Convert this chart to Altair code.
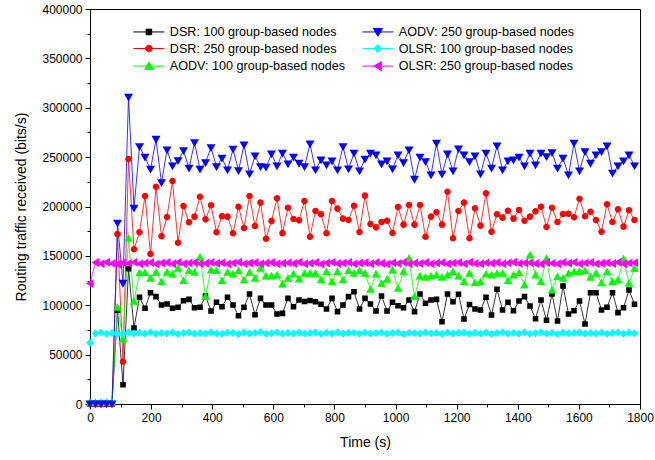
import altair as alt
import pandas as pd

# ---------------- data ----------------
TIME_S = [
    0, 18, 36, 54, 72, 90, 108, 126, 144, 162,
    180, 198, 216, 234, 252, 270, 288, 306, 324, 342,
    360, 378, 396, 414, 432, 450, 468, 486, 504, 522,
    540, 558, 576, 594, 612, 630, 648, 666, 684, 702,
    720, 738, 756, 774, 792, 810, 828, 846, 864, 882,
    900, 918, 936, 954, 972, 990, 1008, 1026, 1044, 1062,
    1080, 1098, 1116, 1134, 1152, 1170, 1188, 1206, 1224, 1242,
    1260, 1278, 1296, 1314, 1332, 1350, 1368, 1386, 1404, 1422,
    1440, 1458, 1476, 1494, 1512, 1530, 1548, 1566, 1584, 1602,
    1620, 1638, 1656, 1674, 1692, 1710, 1728, 1746, 1764, 1782,
]

DSR_100 = [
    0, 0, 0, 0, 0, 95000, 19500, 137000, 77000, 108100,
    96900, 112700, 108700, 100300, 101300, 96900, 97900, 104600, 106000, 97500,
    97900, 109400, 94200, 103000, 98500, 108100, 100300, 89400, 97900, 111400,
    90400, 107000, 100300, 100300, 91100, 91800, 107000, 98500, 105300, 103800,
    104800, 103600, 101000, 96200, 107000, 93500, 100300, 108700, 113700, 96200,
    107000, 101300, 94200, 109400, 94200, 103000, 99500, 97500, 105300, 93500,
    111400, 102000, 105300, 106000, 83300, 111400, 103600, 111100, 86100, 100800,
    96200, 95200, 108100, 90100, 116200, 95200, 103000, 94500, 104300, 108700,
    99200, 86400, 105300, 84800, 111400, 84100, 119500, 91100, 94500, 104300,
    81000, 112700, 112700, 95200, 97900, 112700, 92500, 97500, 115400, 101000,
]

DSR_250 = [
    0, 0, 0, 0, 0, 172000, 42800, 248000, 156700, 173900,
    210600, 151900, 220000, 169800, 189400, 225800, 163300, 200500, 184000, 189700,
    209900, 187000, 201200, 173900, 190100, 189700, 172900, 199800, 178200, 210600,
    180300, 203900, 167400, 185300, 208300, 173000, 198800, 187300, 186000, 205600,
    169400, 195400, 192100, 172900, 205600, 197800, 187700, 186300, 200800, 174200,
    211000, 182300, 178900, 184300, 185600, 173200, 199500, 181600, 201500, 181600,
    201500, 169400, 189700, 194100, 181600, 215000, 167800, 195400, 203900, 167800,
    198200, 180600, 213400, 174500, 192100, 188700, 195700, 187700, 196500, 185600,
    189700, 195100, 199800, 179200, 198800, 184300, 192400, 192700, 189100, 207900,
    190100, 194700, 186300, 174500, 202200, 184300, 197200, 179600, 196200, 186300,
]

AODV_100 = [
    1500, 1500, 1500, 1500, 1500, 97900, 66000, 168000, 104000, 132700,
    133000, 127300, 133400, 123900, 133400, 131600, 137400, 124900, 135000, 133400,
    148600, 108700, 135700, 135000, 124900, 133400, 131600, 135000, 125600, 133400,
    127300, 137400, 129600, 129600, 130600, 121500, 127300, 131600, 126600, 132300,
    132300, 132300, 125600, 134000, 123900, 134000, 125600, 135000, 132300, 135000,
    132300, 116100, 131600, 122200, 126300, 135700, 117100, 134000, 147500, 108700,
    129600, 128300, 129600, 130600, 128300, 130600, 134000, 129600, 123900, 132300,
    122800, 123900, 131600, 130600, 132300, 132300, 124900, 130600, 133000, 120500,
    150900, 130600, 123900, 147500, 115400, 128900, 127300, 132300, 134000, 134000,
    135000, 128300, 132300, 122800, 134000, 123900, 125600, 147000, 122200, 137400,
]

AODV_250 = [
    0, 0, 0, 0, 0, 183000, 122200, 310600, 198200, 260600,
    249800, 237700, 268000, 224100, 257200, 241000, 246400, 256500, 238700, 264600,
    237700, 244400, 259600, 240300, 248800, 237000, 257900, 236300, 262300, 232900,
    251100, 240300, 239700, 253200, 241000, 253900, 243000, 249800, 243700, 240300,
    263300, 237000, 247100, 242000, 246100, 237000, 260600, 238000, 253900, 236000,
    247800, 253900, 252200, 243000, 246100, 238000, 252200, 244400, 257200, 227500,
    249800, 245400, 231900, 264000, 232600, 253200, 236000, 258200, 252200, 245400,
    251100, 232900, 253900, 238700, 261300, 237000, 246100, 247100, 249800, 241000,
    253900, 242000, 253900, 250400, 254500, 238700, 248800, 231900, 264000, 236000,
    255500, 243700, 252200, 255500, 261300, 233600, 241000, 246100, 252200, 241000,
]

OLSR_100 = [
    62000, 71500, 72300, 71200, 72000, 71000, 70800, 72500, 71400, 72200,
    71300, 72400, 71100, 72000, 71600, 72300, 71000, 71900, 72500, 71200,
    72000, 71300, 72400, 71500, 71100, 72200, 71800, 71000, 72400, 71500,
    71900, 72600, 71200, 71700, 72300, 71100, 72000, 71400, 72500, 71300,
    71800, 72400, 71000, 72100, 71500, 72600, 71300, 71900, 72200, 71100,
    72300, 71400, 71800, 72500, 71200, 71900, 72300, 71000, 72200, 71700,
    71300, 72400, 71600, 72000, 71100, 72500, 71400, 71800, 72300, 71200,
    72100, 71500, 72400, 71000, 71900, 72300, 71300, 72000, 71500, 72400,
    71200, 71800, 72500, 71400, 72100, 71000, 72300, 71600, 71900, 72400,
    71300, 72000, 71500, 72300, 71100, 71800, 72400, 71200, 72100, 71600,
]

OLSR_250 = [
    122000, 143200, 142000, 143500, 142300, 141800, 143000, 142200, 143600, 141900,
    142800, 143400, 141700, 142900, 143300, 142100, 143500, 142000, 142700, 143200,
    141900, 142600, 143400, 142200, 143000, 141800, 142900, 143500, 142100, 142700,
    143300, 142000, 142800, 143400, 141900, 142500, 143100, 142300, 143600, 142000,
    142600, 143200, 141800, 142900, 143500, 142200, 142700, 143300, 141900, 142800,
    143100, 142100, 143400, 142500, 141800, 143000, 142400, 143600, 142000, 142900,
    142300, 143300, 141900, 142700, 143400, 142100, 142800, 143200, 142000, 143500,
    142400, 141900, 143100, 142600, 143300, 142000, 142900, 143500, 142200, 142700,
    143000, 142300, 141800, 143400, 142600, 142100, 143200, 142500, 143600, 141900,
    142800, 143300, 142000, 142600, 143100, 142400, 143500, 141900, 142700, 143000,
]

SERIES_NAMES = [
    "DSR: 100 group-based nodes",
    "DSR: 250 group-based nodes",
    "AODV: 100 group-based nodes",
    "AODV: 250 group-based nodes",
    "OLSR: 100 group-based nodes",
    "OLSR: 250 group-based nodes",
]
SERIES_VALUES = [DSR_100, DSR_250, AODV_100, AODV_250, OLSR_100, OLSR_250]
SERIES_COLORS = ["#000000", "#FF0000", "#00FF00", "#0000FF", "#00FFFF", "#FF00FF"]

X_TICKS = [0, 100, 200, 300, 400, 500, 600, 700, 800, 900,
           1000, 1100, 1200, 1300, 1400, 1500, 1600, 1700, 1800]
Y_TICKS = [0, 25000, 50000, 75000, 100000, 125000, 150000, 175000, 200000,
           225000, 250000, 275000, 300000, 325000, 350000, 375000, 400000]

# ---------------- styling ----------------
LINE = "M-3.1,0L3.1,0"  # legend line segment (only stroked in legend)
MARKERS = [
    "M-0.56,-0.56L0.56,-0.56L0.56,0.56L-0.56,0.56Z",                         # square
    "M-0.66,0A0.66,0.66,0,1,0,0.66,0A0.66,0.66,0,1,0,-0.66,0Z",              # circle
    "M0,-0.84L0.86,0.68L-0.86,0.68Z",                                        # triangle up
    "M0,0.86L0.9,-0.7L-0.9,-0.7Z",                                           # triangle down
    "M0,-0.8L0.8,0L0,0.8L-0.8,0Z",                                           # diamond
    "M-0.8,0L0.7,-0.9L0.7,0.9Z",                                             # triangle left
]
SHAPES = [LINE + m for m in MARKERS]

rows = []
for k, (name, vals) in enumerate(zip(SERIES_NAMES, SERIES_VALUES)):
    for t, v in zip(TIME_S, vals):
        rows.append({"series": name, "k": k, "time": t, "value": v})
df = pd.DataFrame(rows)

# legend entries are laid out column by column
color_scale = alt.Scale(domain=SERIES_NAMES, range=SERIES_COLORS)
shape_scale = alt.Scale(domain=SERIES_NAMES, range=SHAPES)

FONT = "Liberation Sans"

legend = alt.Legend(
    title=None, orient="none", legendX=52.6, legendY=16.6, columns=2,
    columnPadding=14, rowPadding=3.6, padding=0, symbolSize=100,
    symbolStrokeWidth=1, labelOffset=14.6, labelFont=FONT, labelFontSize=12.6,
    labelColor="black", labelLimit=400,
)

x_enc = alt.X(
    "time:Q",
    scale=alt.Scale(domain=[0, 1800], nice=False, zero=False),
    axis=alt.Axis(
        title="Time (s)", values=X_TICKS, format="d",
        labelExpr="datum.value % 200 === 0 ? datum.label : ''",
        tickSize={"condition": {"test": "datum.value % 200 === 0", "value": 5}, "value": 3},
        labelFlush=False, labelOverlap=False, labelPadding=3, titlePadding=12,
    ),
)
y_enc = alt.Y(
    "value:Q",
    scale=alt.Scale(domain=[0, 400000], nice=False),
    axis=alt.Axis(
        title="Routing traffic received (bits/s)", values=Y_TICKS, format="d",
        labelExpr="datum.value % 50000 === 0 ? datum.label : ''",
        tickSize={"condition": {"test": "datum.value % 50000 === 0", "value": 5}, "value": 3},
        labelFlush=False, labelOverlap=False, labelPadding=3, titlePadding=13,
    ),
)

lines = alt.Chart(df).mark_line(strokeWidth=0.8).encode(
    x=x_enc, y=y_enc,
    color=alt.Color("series:N", scale=color_scale, legend=legend),
    detail="series:N",
)
points = alt.Chart(df).mark_point(filled=True, size=100, opacity=1).encode(
    x=x_enc, y=y_enc,
    color=alt.Color("series:N", scale=color_scale, legend=legend),
    shape=alt.Shape("series:N", scale=shape_scale, legend=legend),
    order="k:Q",
)

chart = (
    alt.layer(lines, points)
    .properties(
        width=550, height=395,
        autosize=alt.AutoSizeParams(type="none"),
        padding={"left": 90, "top": 9, "right": 15, "bottom": 56},
        background="white",
    )
    .configure_view(stroke="black", strokeWidth=1)
    .configure_axis(
        grid=False, domainColor="black", domainWidth=1, tickColor="black", tickWidth=1,
        labelFont=FONT, labelFontSize=12, labelColor="black",
        titleFont=FONT, titleFontSize=14, titleFontWeight="normal", titleColor="black",
    )
)

chart.save("out.html", embed_options={"renderer": "svg", "actions": False})
